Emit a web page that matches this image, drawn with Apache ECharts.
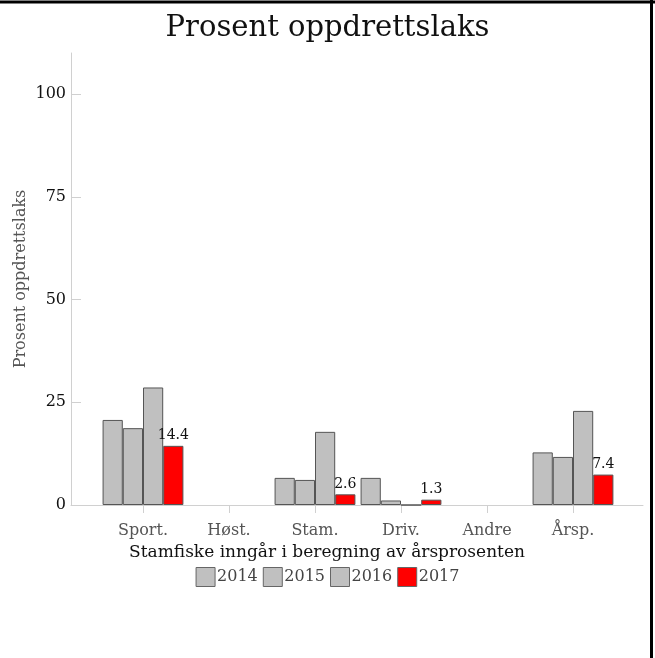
<!DOCTYPE html>
<html>
<head>
<meta charset="utf-8">
<script src="https://cdn.jsdelivr.net/npm/echarts@6/dist/echarts.min.js"></script>
<style>html,body{margin:0;padding:0;background:#fff}#c{width:655px;height:658px}</style>
</head>
<body>
<div id="c"></div>
<script>
var categories = ['Sport.', 'Høst.', 'Stam.', 'Driv.', 'Andre', 'Årsp.'];
var years = ['2014', '2015', '2016', '2017'];
var v2014 = [20.7, null, 6.6, 6.6, null, 12.8];
var v2015 = [18.7, null, 6.1, 1.1, null, 11.7];
var v2016 = [28.6, null, 17.8, 0, null, 22.9];
var v2017 = [14.4, null, 2.6, 1.3, null, 7.4];
var yTicks = [0, 25, 50, 75, 100];

var FONT = 'DejaVu Serif';
var seriesData = [v2014, v2015, v2016, v2017];
var colors = ['#c0c0c0', '#c0c0c0', '#c0c0c0', '#ff0000'];

var chart = echarts.init(document.getElementById('c'));
var series = years.map(function (y, i) {
  var s = {
    name: y,
    type: 'bar',
    xAxisIndex: 1,
    yAxisIndex: 1,
    data: seriesData[i],
    barGap: '0%',
    barCategoryGap: '6%',
    itemStyle: { color: colors[i], borderColor: '#555', borderWidth: 1, borderRadius: 0 },
    emphasis: { disabled: true },
    animation: false
  };
  if (i === 3) {
    s.label = {
      show: true, position: 'top', distance: 3,
      color: '#111', fontFamily: FONT, fontSize: 14,
      formatter: function (p) { return p.value == null ? '' : p.value.toFixed(1); }
    };
  }
  return s;
});

chart.setOption({
  animation: false,
  textStyle: { fontFamily: FONT },
  title: {
    text: 'Prosent oppdrettslaks', left: 'center', top: 9,
    textStyle: { fontFamily: FONT, fontSize: 29, fontWeight: 'normal', color: '#111' }
  },
  legend: {
    data: years, left: 'center', top: 562,
    itemWidth: 19, itemHeight: 19, itemGap: 5,
    icon: 'rect',
    textStyle: { fontFamily: FONT, fontSize: 16, color: '#444', padding: [0, 0, 0, -3] },
    itemStyle: { borderColor: '#666', borderWidth: 1 }
  },
  grid: [
    { left: 71, right: 12, top: 53, bottom: 153 },
    { left: 100, right: 39, top: 53, bottom: 153 }
  ],
  xAxis: [
    { type: 'category', gridIndex: 0, data: [''],
      axisLine: { show: true, lineStyle: { color: '#d0d0d0', width: 1 } },
      axisTick: { show: false }, axisLabel: { show: false }, splitLine: { show: false } },
    { type: 'category', gridIndex: 1, data: categories,
      axisLine: { show: false },
      axisTick: { show: true, alignWithLabel: true, length: 8, lineStyle: { color: '#d0d0d0' } },
      axisLabel: { color: '#555', fontFamily: FONT, fontSize: 16, margin: 18 },
      name: 'Stamfiske inngår i beregning av årsprosenten',
      nameLocation: 'middle', nameGap: 35,
      nameTextStyle: { color: '#111', fontFamily: FONT, fontSize: 17, padding: [0, 62, 0, 0] } }
  ],
  yAxis: [
    { type: 'value', gridIndex: 0, min: 0, max: 110, interval: 25,
      axisLine: { show: true, lineStyle: { color: '#d0d0d0', width: 1 } },
      axisTick: { show: true, inside: true, length: 10, customValues: yTicks, lineStyle: { color: '#d0d0d0' } },
      axisLabel: { color: '#111', fontFamily: FONT, fontSize: 16, margin: 5, customValues: yTicks },
      splitLine: { show: false },
      name: 'Prosent oppdrettslaks', nameLocation: 'middle', nameGap: 42, nameMoveOverlap: false,
      nameTextStyle: { color: '#555', fontFamily: FONT, fontSize: 16 } },
    { type: 'value', gridIndex: 1, min: 0, max: 110, show: false, splitLine: { show: false } }
  ],
  graphic: [
    { type: 'line', shape: { x1: 0, y1: 2, x2: 655, y2: 2 }, style: { stroke: '#000', lineWidth: 3 } },
    { type: 'line', shape: { x1: 651.5, y1: 0, x2: 651.5, y2: 658 }, style: { stroke: '#000', lineWidth: 3 } }
  ],
  series: series
});
</script>
</body>
</html>
